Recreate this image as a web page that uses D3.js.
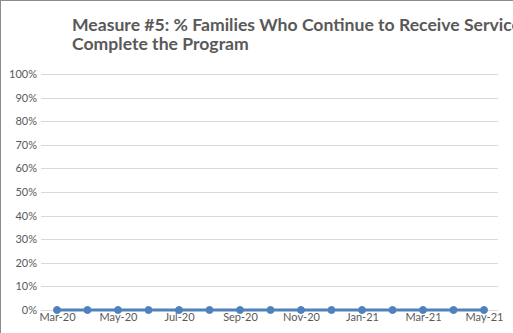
<!DOCTYPE html>
<html><head><meta charset="utf-8">
<script src="https://cdn.jsdelivr.net/npm/d3@7"></script>
<style>
html,body{margin:0;padding:0;background:#fff;overflow:hidden;}
svg{display:block;}
</style></head>
<body>
<svg id="chart" width="513" height="333"></svg>
<script>
const months = ["Mar-20","Apr-20","May-20","Jun-20","Jul-20","Aug-20","Sep-20","Oct-20","Nov-20","Dec-20","Jan-21","Feb-21","Mar-21","Apr-21","May-21"];
const values = [0,0,0,0,0,0,0,0,0,0,0,0,0,0,0];
const yTicks = [0,0.1,0.2,0.3,0.4,0.5,0.6,0.7,0.8,0.9,1.0];
const titleLines = ["Measure #5: % Families Who Continue to Receive Services Until They", "Complete the Program"];

const svg = d3.select("#chart");
const W = 513, H = 333;
const plot = {left: 41, right: 498, top: 74, bottom: 310};

// border (top & left visible)
svg.append("line").attr("x1",0.5).attr("x2",0.5).attr("y1",0).attr("y2",H).attr("stroke","#8c8c8c").attr("stroke-width",1);
svg.append("line").attr("x1",0).attr("x2",W).attr("y1",0.5).attr("y2",0.5).attr("stroke","#8c8c8c").attr("stroke-width",1);

const x = d3.scalePoint().domain(months).range([57, 484]);
const y = d3.scaleLinear().domain([0,1]).range([plot.bottom, plot.top]);

// gridlines
svg.append("g").selectAll("line").data(yTicks).join("line")
  .attr("x1", plot.left).attr("x2", plot.right)
  .attr("y1", d => Math.round(y(d)) + 0.5).attr("y2", d => Math.round(y(d)) + 0.5)
  .attr("stroke", "#d9d9d9").attr("stroke-width", 1);

// y axis labels
const yAxis = d3.axisLeft(y).tickValues(yTicks).tickFormat(d3.format(".0%")).tickSize(0).tickPadding(4);
const gy = svg.append("g").attr("transform", `translate(${plot.left},0)`).call(yAxis);
gy.select(".domain").remove();
gy.selectAll("text").attr("fill","#595959").style("font-family","Lato, 'Open Sans', sans-serif").style("font-size","11px");

// x axis labels
const xAxis = d3.axisBottom(x).tickValues(months.filter((d,i)=>i%2===0)).tickSize(0).tickPadding(3);
const gx = svg.append("g").attr("transform", `translate(0,${plot.bottom})`).call(xAxis);
gx.select(".domain").remove();
gx.selectAll("text").attr("fill","#595959").style("font-family","Lato, 'Open Sans', sans-serif").style("font-size","11px");

// line
const line = d3.line().x((d,i)=>x(months[i])).y(d=>y(d));
svg.append("path").datum(values).attr("d", line).attr("fill","none")
  .attr("stroke","#4f81bd").attr("stroke-width",3.2).attr("stroke-linejoin","round");
svg.append("g").selectAll("circle").data(values).join("circle")
  .attr("cx",(d,i)=>x(months[i])).attr("cy",d=>y(d)).attr("r",3.5)
  .attr("fill","#4f81bd").attr("stroke","#4f81bd");

// title
svg.append("g").selectAll("text").data(titleLines).join("text")
  .attr("x",72).attr("y",(d,i)=>31 + i*19).attr("fill","#595959")
  .style("font-family","Lato, 'Open Sans', sans-serif").style("font-size","17.6px").style("font-weight","bold")
  .text(d=>d);
</script>
</body></html>
